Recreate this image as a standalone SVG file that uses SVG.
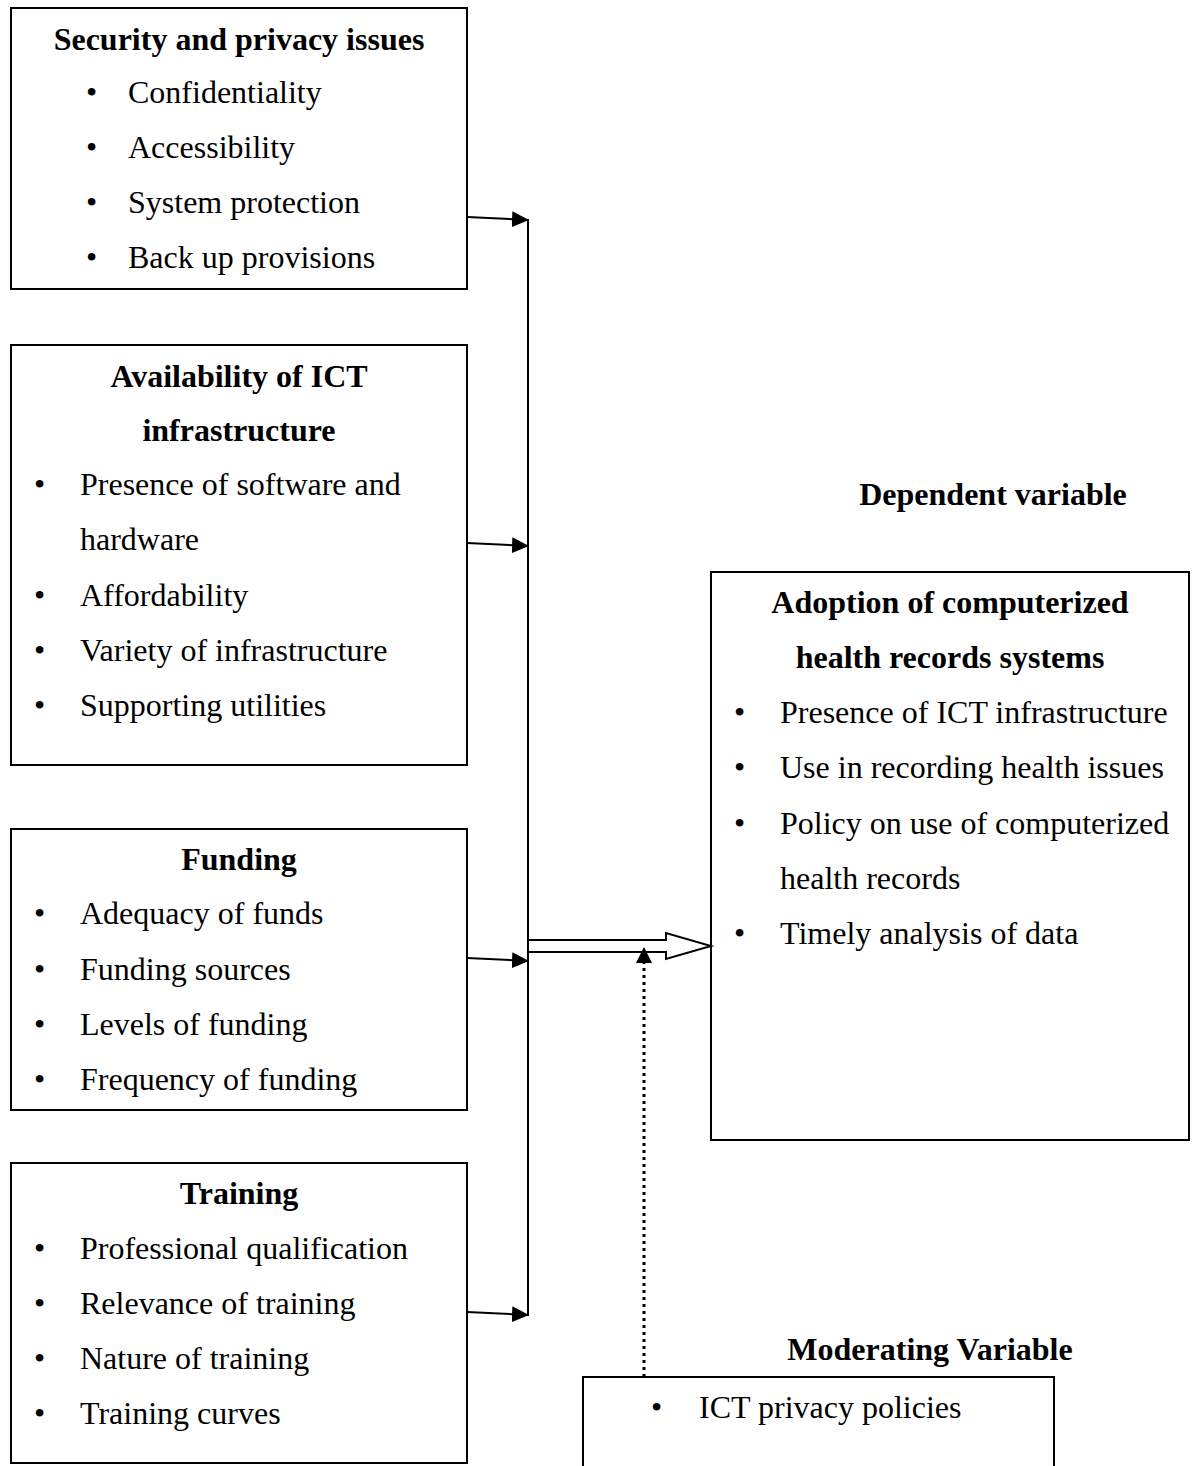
<svg xmlns="http://www.w3.org/2000/svg" width="1192" height="1466" viewBox="0 0 1192 1466">
<style>
text{font-family:"Liberation Serif","Times New Roman",serif;font-size:32px;fill:#000}
.b{font-weight:bold}
.c{text-anchor:middle}
.box{fill:#fff;stroke:#000;stroke-width:2}
.ln{fill:none;stroke:#000;stroke-width:2}
</style>
<defs>
<marker id="ah" markerWidth="17" markerHeight="16" refX="16" refY="8" orient="auto" markerUnits="userSpaceOnUse">
<path d="M0,0 L17,8 L0,16 Z" fill="#000"/>
</marker>
</defs>
<g id="security">
<rect class="box" x="11" y="8" width="456" height="281"/>
<text class="b c" x="239" y="50">Security and privacy issues</text>
<text x="86" y="103">•</text><text x="128" y="103">Confidentiality</text>
<text x="86" y="158">•</text><text x="128" y="158">Accessibility</text>
<text x="86" y="213">•</text><text x="128" y="213">System protection</text>
<text x="86" y="268">•</text><text x="128" y="268">Back up provisions</text>
</g>
<g id="availability">
<rect class="box" x="11" y="345" width="456" height="420"/>
<text class="b c" x="239" y="387">Availability of ICT</text>
<text class="b c" x="239" y="441">infrastructure</text>
<text x="34" y="495">•</text><text x="80" y="495">Presence of software and</text>
<text x="80" y="550">hardware</text>
<text x="34" y="606">•</text><text x="80" y="606">Affordability</text>
<text x="34" y="661">•</text><text x="80" y="661">Variety of infrastructure</text>
<text x="34" y="716">•</text><text x="80" y="716">Supporting utilities</text>
</g>
<g id="funding">
<rect class="box" x="11" y="829" width="456" height="281"/>
<text class="b c" x="239" y="870">Funding</text>
<text x="34" y="924">•</text><text x="80" y="924">Adequacy of funds</text>
<text x="34" y="980">•</text><text x="80" y="980">Funding sources</text>
<text x="34" y="1035">•</text><text x="80" y="1035">Levels of funding</text>
<text x="34" y="1090">•</text><text x="80" y="1090">Frequency of funding</text>
</g>
<g id="training">
<rect class="box" x="11" y="1163" width="456" height="300"/>
<text class="b c" x="239" y="1204">Training</text>
<text x="34" y="1259">•</text><text x="80" y="1259">Professional qualification</text>
<text x="34" y="1314">•</text><text x="80" y="1314">Relevance of training</text>
<text x="34" y="1369">•</text><text x="80" y="1369">Nature of training</text>
<text x="34" y="1424">•</text><text x="80" y="1424">Training curves</text>
</g>
<g id="dependent-label">
<text class="b c" x="993" y="505">Dependent variable</text>
</g>
<g id="adoption">
<rect class="box" x="711" y="572" width="478" height="568"/>
<text class="b c" x="950" y="613">Adoption of computerized</text>
<text class="b c" x="950" y="668">health records systems</text>
<text x="734" y="723">•</text><text x="780" y="723">Presence of ICT infrastructure</text>
<text x="734" y="778">•</text><text x="780" y="778">Use in recording health issues</text>
<text x="734" y="834">•</text><text x="780" y="834">Policy on use of computerized</text>
<text x="780" y="889">health records</text>
<text x="734" y="944">•</text><text x="780" y="944">Timely analysis of data</text>
</g>
<g id="moderating-label">
<text class="b c" x="930" y="1360">Moderating Variable</text>
</g>
<g id="moderating">
<path class="ln" d="M583,1466 V1377 H1054 V1466"/>
<text x="651" y="1418">•</text><text x="699" y="1418">ICT privacy policies</text>
</g>
<g id="connectors">
<line class="ln" x1="467" y1="217" x2="528" y2="220" marker-end="url(#ah)"/>
<line class="ln" x1="467" y1="543" x2="528" y2="546" marker-end="url(#ah)"/>
<line class="ln" x1="467" y1="958" x2="528" y2="961" marker-end="url(#ah)"/>
<line class="ln" x1="467" y1="1312" x2="528" y2="1315" marker-end="url(#ah)"/>
<line class="ln" x1="528" y1="219" x2="528" y2="1316"/>
<path class="ln" fill="#fff" d="M529,940 H666 V933 L711,946 L666,959 V952 H529"/>
<line x1="644" y1="1377" x2="644" y2="963" stroke="#000" stroke-width="3" stroke-dasharray="3,4"/>
<path d="M644,947 L652,963 L636,963 Z" fill="#000"/>
</g>
</svg>
